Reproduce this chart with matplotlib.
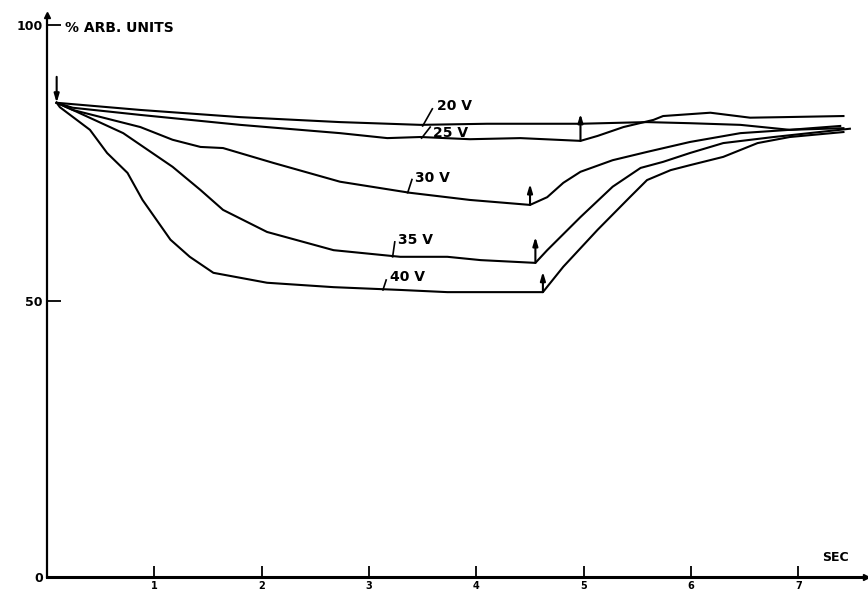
#!/usr/bin/env python3

import matplotlib
matplotlib.use("Agg")
from matplotlib import pyplot as plt

# Traces: time (s) and signal (% arb. units)
t_20 = [0.09, 0.87, 1.80, 2.73, 3.48, 4.10, 4.97, 5.59, 5.99, 6.46, 6.92, 7.39]
y_20 = [85.9, 84.6, 83.3, 82.4, 81.9, 82.1, 82.1, 82.4, 82.2, 81.9, 81.0, 81.7]

t_25 = [0.09, 0.24, 0.87, 1.80, 2.73, 3.17, 3.48, 3.94, 4.41, 4.97, 5.13, 5.37,
        5.65, 5.74, 6.18, 6.55, 6.86, 7.42]
y_25 = [85.9, 85.0, 83.7, 81.9, 80.4, 79.5, 79.7, 79.3, 79.5, 79.0, 79.9, 81.5,
        82.8, 83.5, 84.1, 83.2, 83.3, 83.5]

t_30 = [0.09, 0.24, 0.87, 1.17, 1.43, 1.64, 2.11, 2.73, 3.38, 3.94, 4.50, 4.66,
        4.81, 4.97, 5.27, 5.59, 5.99, 6.46, 6.92, 7.42]
y_30 = [85.9, 84.6, 81.5, 79.2, 77.9, 77.7, 75.0, 71.6, 69.6, 68.3, 67.4, 68.8,
        71.4, 73.4, 75.5, 77.0, 78.8, 80.4, 81.0, 81.3]

t_35 = [0.09, 0.24, 0.71, 1.17, 1.43, 1.64, 2.05, 2.67, 3.29, 3.73, 4.04, 4.55,
        4.66, 4.97, 5.27, 5.53, 5.74, 5.99, 6.30, 6.77, 7.48]
y_35 = [85.9, 84.6, 80.4, 74.3, 70.1, 66.5, 62.5, 59.2, 58.0, 58.0, 57.4, 56.9,
        59.2, 65.2, 70.7, 74.1, 75.2, 76.8, 78.6, 79.7, 81.2]

t_40 = [0.09, 0.12, 0.40, 0.56, 0.75, 0.89, 1.15, 1.33, 1.55, 2.05, 2.67, 3.29,
        3.73, 4.62, 4.81, 5.13, 5.43, 5.59, 5.81, 5.99, 6.30, 6.62, 6.92, 7.42]
y_40 = [85.9, 85.1, 81.0, 76.8, 73.2, 68.3, 61.1, 58.0, 55.1, 53.3, 52.5, 52.0,
        51.6, 51.6, 56.2, 62.9, 68.8, 71.9, 73.7, 74.6, 76.1, 78.6, 79.7, 80.6]

# switch markers: (time, from, to)
switch_on = (0.09, 90.6, 85.9)
switch_off = [(4.97, 79.0, 83.9), (4.50, 67.4, 71.2), (4.55, 56.9, 61.6), (4.62, 51.6, 55.3)]

# voltage labels: text, text position, leader start, leader end
labels = ['20 V', '25 V', '30 V', '35 V', '40 V']
label_xy = [(3.63, 85.3), (3.60, 80.4), (3.43, 72.3), (3.27, 61.1), (3.20, 54.3)]
leader_from = [(3.50, 81.7), (3.49, 79.5), (3.36, 69.6), (3.22, 58.0), (3.13, 52.0)]
leader_to = [(3.59, 84.8), (3.57, 81.5), (3.40, 72.0), (3.24, 60.7), (3.16, 53.8)]

xticks = [1, 2, 3, 4, 5, 6, 7]
yticks = [0, 50, 100]

fig = plt.figure(figsize=(8.68, 5.94), dpi=100)
ax = fig.add_axes([47/868, 17/594, 819/868, 562/594])

for t, y in [(t_20, y_20), (t_25, y_25), (t_30, y_30), (t_35, y_35), (t_40, y_40)]:
    ax.plot(t, y, color='black', lw=1.5, solid_joinstyle='round')

arr = dict(arrowstyle='-|>,head_length=0.5,head_width=0.15', color='black', lw=1.5,
           shrinkA=0, shrinkB=0)
ax.annotate('', xy=(switch_on[0], switch_on[2]), xytext=(switch_on[0], switch_on[1]),
            arrowprops=arr)
for x, y0, y1 in switch_off:
    ax.annotate('', xy=(x, y1), xytext=(x, y0), arrowprops=arr)

for s, (tx, ty), (x0, y0), (x1, y1) in zip(labels, label_xy, leader_from, leader_to):
    ax.plot([x0, x1], [y0, y1], color='black', lw=1.2)
    ax.text(tx, ty, s, fontsize=10, fontweight='bold', va='center', ha='left')

ax.set_xlim(0, 7.63)
ax.set_ylim(0, 101.8)
ax.spines['top'].set_visible(False)
ax.spines['right'].set_visible(False)
ax.spines['left'].set_linewidth(1.6)
ax.spines['bottom'].set_linewidth(2.2)

ax.set_xticks(xticks)
ax.set_xticklabels([str(v) for v in xticks], fontsize=7, fontweight='bold')
ax.set_yticks(yticks)
ax.set_yticklabels([str(v) for v in yticks], fontsize=9, fontweight='bold')
ax.tick_params(axis='x', direction='in', length=8, width=1.3, pad=3)
ax.tick_params(axis='y', direction='in', length=10, width=1.3, pad=3)

# axis end arrows
ax.plot(1, 0, '>k', markersize=5, transform=ax.get_yaxis_transform(), clip_on=False)
ax.plot(0, 1, '^k', markersize=5, transform=ax.get_xaxis_transform(), clip_on=False)

ax.text(0.17, 99.5, '% ARB. UNITS', fontsize=10, fontweight='bold', va='center')
ax.text(7.22, 2.3, 'SEC', fontsize=9, fontweight='bold', va='bottom')

fig.savefig('out.png', dpi=100)
